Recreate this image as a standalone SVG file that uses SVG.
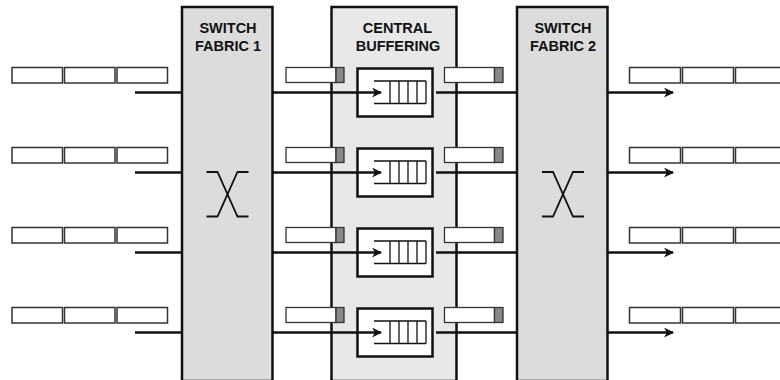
<svg xmlns="http://www.w3.org/2000/svg" width="780" height="380" viewBox="0 0 780 380">
<style>
.fab{fill:#dcdcdc;stroke:#111;stroke-width:2.5}
.cen{fill:#e8e8e8;stroke:#111;stroke-width:2.5}
.cell{fill:#fff;stroke:#333;stroke-width:1.5}
.buf{fill:#fff;stroke:#333;stroke-width:1.3}
.bend{fill:#888;stroke:#333;stroke-width:1.3}
.qbox{fill:#fff;stroke:#111;stroke-width:2.5}
.q{fill:none;stroke:#111;stroke-width:1.3}
.ln{fill:none;stroke:#111;stroke-width:2.5}
.x{fill:none;stroke:#111;stroke-width:1.8}
.t{font-family:"Liberation Sans",Arial,sans-serif;font-weight:bold;font-size:14.5px;fill:#111;text-anchor:middle}
</style>
<defs>
<marker id="ah" viewBox="0 0 10 10" refX="9" refY="5" markerWidth="4" markerHeight="4" orient="auto" markerUnits="strokeWidth">
<path d="M0,0 L10,5 L0,10 L3,5 z" fill="#111"/>
</marker>
<g id="inrow">
<rect class="cell" x="12" y="67.5" width="50.5" height="15.5"/>
<rect class="cell" x="64.5" y="67.5" width="50.5" height="15.5"/>
<rect class="cell" x="117" y="67.5" width="50.5" height="15.5"/>
</g>
<g id="outrow">
<rect class="cell" x="629.5" y="67.5" width="51" height="15.5"/>
<rect class="cell" x="682.5" y="67.5" width="51" height="15.5"/>
<rect class="cell" x="735.5" y="67.5" width="51" height="15.5"/>
</g>
<g id="bufL">
<rect class="buf" x="286" y="67.5" width="50" height="15"/>
<rect class="bend" x="336" y="67.5" width="8" height="15"/>
</g>
<g id="bufR">
<rect class="buf" x="444.5" y="67.5" width="50" height="15"/>
<rect class="bend" x="494.5" y="67.5" width="8.5" height="15"/>
</g>
<g id="queue">
<rect class="qbox" x="357.5" y="68.5" width="75" height="48"/>
<path class="q" d="M374,81 H426 M374,103.5 H426 M390,81 V103.5 M399,81 V103.5 M408,81 V103.5 M417,81 V103.5 M426,81 V103.5"/>
</g>
<path id="xs" class="x" d="M-21,0 H-10 L10,44.5 H21 M21,0 H10 L-10,44.5 H-21"/>
</defs>

<g id="fabric1">
<rect class="fab" x="182" y="7" width="90.5" height="374"/>
<text class="t" x="228" y="33">SWITCH</text>
<text class="t" x="228" y="50.5">FABRIC 1</text>
<use href="#xs" x="227.5" y="172"/>
</g>
<g id="central">
<rect class="cen" x="331.5" y="7" width="125" height="374"/>
<text class="t" x="397.5" y="33">CENTRAL</text>
<text class="t" x="398" y="50.5">BUFFERING</text>
</g>
<g id="fabric2">
<rect class="fab" x="517" y="7" width="90.5" height="374"/>
<text class="t" x="563" y="33">SWITCH</text>
<text class="t" x="563" y="50.5">FABRIC 2</text>
<use href="#xs" x="563" y="172"/>
</g>

<g id="inputs">
<use href="#inrow" y="0"/><use href="#inrow" y="80"/><use href="#inrow" y="160"/><use href="#inrow" y="240"/>
</g>
<g id="outputs">
<use href="#outrow" y="0"/><use href="#outrow" y="80"/><use href="#outrow" y="160"/><use href="#outrow" y="240"/>
</g>
<g id="buffers">
<use href="#bufL" y="0"/><use href="#bufL" y="80"/><use href="#bufL" y="160"/><use href="#bufL" y="240"/>
<use href="#bufR" y="0"/><use href="#bufR" y="80"/><use href="#bufR" y="160"/><use href="#bufR" y="240"/>
</g>
<g id="queues">
<use href="#queue" y="0"/><use href="#queue" y="80"/><use href="#queue" y="160"/><use href="#queue" y="240"/>
</g>

<g id="connectors">
<path class="ln" d="M135,92.5 H182 M135,172.5 H182 M135,252.5 H182 M135,332.5 H182"/>
<path class="ln" d="M272,92.5 H381" marker-end="url(#ah)"/>
<path class="ln" d="M272,172.5 H381" marker-end="url(#ah)"/>
<path class="ln" d="M272,252.5 H381" marker-end="url(#ah)"/>
<path class="ln" d="M272,332.5 H381" marker-end="url(#ah)"/>
<path class="ln" d="M436,92.5 H517 M436,172.5 H517 M436,252.5 H517 M436,332.5 H517"/>
<path class="ln" d="M607,92.5 H673" marker-end="url(#ah)"/>
<path class="ln" d="M607,172.5 H673" marker-end="url(#ah)"/>
<path class="ln" d="M607,252.5 H673" marker-end="url(#ah)"/>
<path class="ln" d="M607,332.5 H673" marker-end="url(#ah)"/>
</g>
</svg>
